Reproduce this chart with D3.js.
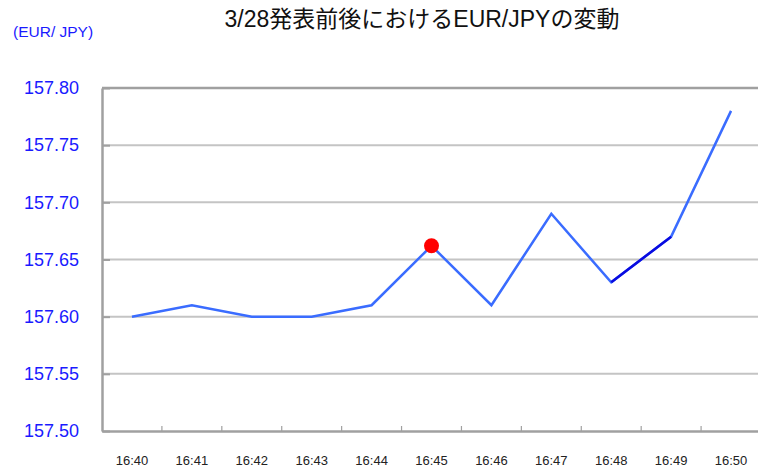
<!DOCTYPE html>
<html>
<head>
    <meta charset="utf-8">
    <title>EUR/JPY</title>
    <script src="https://d3js.org/d3.v7.min.js"></script>
    <style>
        body { margin: 0; background: #fff; }
        svg { display: block; font-family: "Liberation Sans", Arial, "Noto Sans CJK JP", sans-serif; }
    </style>
</head>

<body>
<div id="chart"></div>
<script type="text/javascript">

    // data
    let times = ["16:40", "16:41", "16:42", "16:43", "16:44", "16:45", "16:46", "16:47", "16:48", "16:49", "16:50"];
    let prices = [157.60, 157.61, 157.60, 157.60, 157.61, 157.662, 157.61, 157.69, 157.63, 157.67, 157.78];
    let yTicks = [157.50, 157.55, 157.60, 157.65, 157.70, 157.75, 157.80];
    let markTime = "16:45";
    let darkFrom = "16:48", darkTo = "16:49";

    let W = 758, H = 467;
    let margin = {top: 88, right: -3, bottom: 36, left: 102};

    let w = W - margin.left - margin.right;
    let h = H - margin.top - margin.bottom;

    let svg = d3.select("#chart")
        .append("svg")
            .attr("width", W)
            .attr("height", H);

    // title
    svg.append("text")
        .attr("x", 422)
        .attr("y", 27)
        .attr("text-anchor", "middle")
        .attr("font-size", "23px")
        .attr("fill", "#111")
        .text("3/28発表前後におけるEUR/JPYの変動");

    // unit label
    svg.append("text")
        .attr("x", 13)
        .attr("y", 37)
        .attr("font-size", "15.5px")
        .attr("fill", "#1a1aff")
        .text("(EUR/ JPY)");

    let g = svg.append("g")
        .attr("transform", "translate(" + margin.left + "," + margin.top + ")");

    let xScale = d3.scaleBand()
        .domain(times)
        .range([0, w])
        .padding(0);

    let yScale = d3.scaleLinear()
        .domain([157.50, 157.80])
        .range([h, 0]);

    // gridlines
    g.selectAll("line.grid")
        .data(yTicks.filter(function(d) { return d > 157.50 && d < 157.80; }))
        .enter()
        .append("line")
        .attr("class", "grid")
        .attr("x1", 0)
        .attr("x2", w)
        .attr("y1", function(d) { return yScale(d); })
        .attr("y2", function(d) { return yScale(d); })
        .attr("stroke", "#c4c4c4")
        .attr("stroke-width", 2);

    // top border
    g.append("line")
        .attr("x1", 0)
        .attr("x2", w)
        .attr("y1", yScale(157.80))
        .attr("y2", yScale(157.80))
        .attr("stroke", "#a0a0a0")
        .attr("stroke-width", 2.5);

    // y axis
    let yAxis = d3.axisLeft(yScale)
        .tickValues(yTicks)
        .tickSizeInner(-8)
        .tickSizeOuter(0)
        .tickPadding(23)
        .tickFormat(d3.format(".2f"));

    let ya = g.append("g").call(yAxis);
    ya.select(".domain").attr("stroke", "#a0a0a0").attr("stroke-width", 2.5);
    ya.selectAll(".tick line").attr("stroke", "#a0a0a0").attr("stroke-width", 2);
    ya.selectAll(".tick text")
        .attr("font-size", "18px")
        .attr("font-family", "Liberation Sans, Arial, sans-serif")
        .attr("fill", "#1a1aff");

    // x axis (labels centred in each band)
    let xAxis = d3.axisBottom(xScale)
        .tickSize(0)
        .tickPadding(25);

    let xa = g.append("g")
        .attr("transform", "translate(0," + h + ")")
        .call(xAxis);
    xa.select(".domain").attr("stroke", "#a0a0a0").attr("stroke-width", 2.5);
    xa.selectAll(".tick text")
        .attr("font-size", "13px")
        .attr("font-family", "Liberation Sans, Arial, sans-serif")
        .attr("fill", "#222");

    // tick marks on band boundaries
    g.selectAll("line.xtick")
        .data(times)
        .enter()
        .append("line")
        .attr("class", "xtick")
        .attr("x1", function(d) { return xScale(d) + xScale.bandwidth(); })
        .attr("x2", function(d) { return xScale(d) + xScale.bandwidth(); })
        .attr("y1", h)
        .attr("y2", h - 5)
        .attr("stroke", "#a0a0a0")
        .attr("stroke-width", 1.2);

    let dataset = times.map(function(t, i) { return {t: t, v: prices[i]}; });

    let line = d3.line()
        .x(function(d) { return xScale(d.t) + xScale.bandwidth() / 2; })
        .y(function(d) { return yScale(d.v); });

    g.append("path")
        .datum(dataset)
        .attr("d", line)
        .attr("fill", "none")
        .attr("stroke", "#3a6cff")
        .attr("stroke-width", 2.5)
        .attr("stroke-linejoin", "miter");

    // darker segment
    let i0 = times.indexOf(darkFrom), i1 = times.indexOf(darkTo);
    g.append("path")
        .datum(dataset.slice(i0, i1 + 1))
        .attr("d", line)
        .attr("fill", "none")
        .attr("stroke", "#0a0ae0")
        .attr("stroke-width", 2.5);

    // red marker
    let mi = times.indexOf(markTime);
    g.append("circle")
        .attr("cx", xScale(markTime) + xScale.bandwidth() / 2)
        .attr("cy", yScale(prices[mi]))
        .attr("r", 7.5)
        .attr("fill", "#ff0000");

</script>
</body>
</html>
